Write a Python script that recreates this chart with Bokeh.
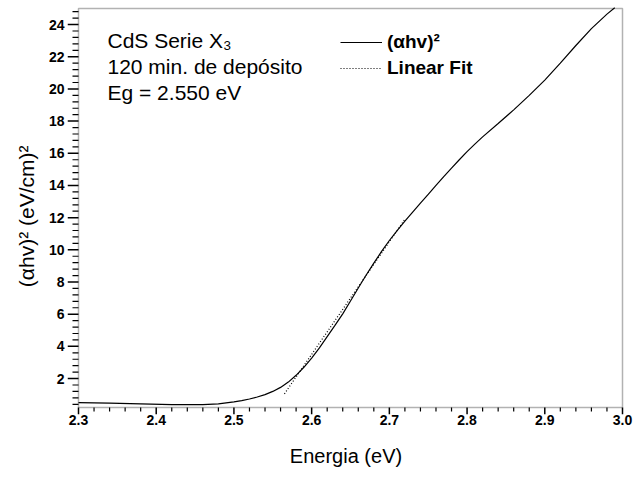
from bokeh.plotting import figure
from bokeh.models import (FixedTicker, NumeralTickFormatter, Label, Legend, LegendItem,
                          Range1d, Whisker, ColumnDataSource, BoxAnnotation)
from bokeh.embed import file_html
from bokeh.resources import INLINE

# data
energy = [2.30, 2.34, 2.38, 2.42, 2.46, 2.48, 2.50, 2.51, 2.52, 2.53, 2.54, 2.55, 2.56,
          2.57, 2.58, 2.59, 2.60, 2.61, 2.62, 2.63, 2.64, 2.65, 2.66, 2.67, 2.68, 2.69,
          2.70, 2.71, 2.72, 2.73, 2.74, 2.75, 2.76, 2.77, 2.78, 2.79, 2.80, 2.81, 2.82,
          2.84, 2.86, 2.88, 2.90, 2.92, 2.94, 2.96, 2.98, 2.99]
ahv2 = [0.50, 0.47, 0.42, 0.38, 0.38, 0.42, 0.55, 0.63, 0.73, 0.85, 1.00, 1.20, 1.45,
        1.78, 2.20, 2.70, 3.27, 3.91, 4.60, 5.30, 6.02, 6.82, 7.63, 8.42, 9.17, 9.90,
        10.58, 11.20, 11.78, 12.35, 12.90, 13.45, 14.00, 14.55, 15.08, 15.60, 16.10,
        16.57, 17.02, 17.85, 18.70, 19.60, 20.55, 21.60, 22.70, 23.75, 24.65, 25.05]
fit_x = [2.565, 2.72]
fit_y = [1.05, 11.90]

x_major = [2.3, 2.4, 2.5, 2.6, 2.7, 2.8, 2.9, 3.0]
y_major = [2, 4, 6, 8, 10, 12, 14, 16, 18, 20, 22, 24]
x_lim = (2.3, 3.0)
y_lim = (0.2, 25.0)

FONT = "Liberation Sans"

# pixel scale of the axes box (544 px wide, 399 px tall)
PX_X = 544 / (x_lim[1] - x_lim[0])
PX_Y = 399 / (y_lim[1] - y_lim[0])
# frame is extended a little so outward tick marks lie inside it
x_start = x_lim[0] - 11 / PX_X
x_end = x_lim[1] + 2 / PX_X
y_start = y_lim[0] - 7 / PX_Y
y_end = y_lim[1] + 2 / PX_Y

p = figure(width=636, height=477, output_backend="svg", toolbar_location=None,
           x_range=Range1d(x_start, x_end), y_range=Range1d(y_start, y_end),
           min_border_left=67, min_border_right=12, min_border_top=6, min_border_bottom=63)
p.grid.visible = False
p.outline_line_color = None
p.background_fill_color = "white"
p.border_fill_color = "white"

curve = p.line(energy, ahv2, line_color="black", line_width=1.2)
fit = p.line(fit_x, fit_y, line_color="black", line_width=1.2, line_dash="1 2")

# the axes box
p.add_layout(BoxAnnotation(left=x_lim[0], right=x_lim[1], bottom=y_lim[0], top=y_lim[1],
                           fill_alpha=0, line_color="black", line_width=1.5))

p.xaxis.ticker = FixedTicker(ticks=x_major)
p.yaxis.ticker = FixedTicker(ticks=y_major)
p.xaxis.formatter = NumeralTickFormatter(format="0.0")
p.yaxis.formatter = NumeralTickFormatter(format="0")

for ax in (p.xaxis[0], p.yaxis[0]):
    ax.axis_line_color = None
    ax.major_tick_line_color = None
    ax.minor_tick_line_color = None
    ax.major_tick_in = 0
    ax.minor_tick_in = 0
    ax.major_tick_out = 0
    ax.minor_tick_out = 0
    ax.major_label_text_font = FONT
    ax.major_label_text_font_style = "bold"
    ax.major_label_text_font_size = "14px"
    ax.major_label_text_color = "black"
    ax.axis_label_text_font = FONT
    ax.axis_label_text_font_style = "normal"
    ax.axis_label_text_color = "black"

p.xaxis.axis_label_text_font_size = "20px"
p.yaxis.axis_label_text_font_size = "21px"
p.xaxis.major_label_standoff = 0
p.yaxis.major_label_standoff = 3
p.xaxis.axis_label = "Energia (eV)"
p.xaxis.axis_label_standoff = 17
p.yaxis.axis_label = "(\u03b1hv)\u00b2   (eV/cm)\u00b2"
p.yaxis.axis_label_standoff = 8

# outward tick marks
x_minor = [round(x_lim[0] + 0.02 * i, 2) for i in range(36)]
y_minor = [round(0.4 * i, 1) for i in range(1, 63)]
tick_sets = [
    (x_major, "height", y_start, y_lim[0], 1.5),
    ([v for v in x_minor if v not in x_major], "height", y_lim[0] - 4 / PX_Y, y_lim[0], 1.2),
    (y_major, "width", x_start, x_lim[0], 1.5),
    ([v for v in y_minor if v not in y_major], "width", x_lim[0] - 6 / PX_X, x_lim[0], 1.2),
]
for pos, dim, lo, hi, lw in tick_sets:
    src = ColumnDataSource(dict(base=pos, lower=[lo] * len(pos), upper=[hi] * len(pos)))
    p.add_layout(Whisker(source=src, base="base", lower="lower", upper="upper",
                         dimension=dim, lower_head=None, upper_head=None,
                         line_color="black", line_width=lw))

for i, t in enumerate(["CdS Serie X\u2083", "120 min. de dep\u00f3sito", "Eg = 2.550 eV"]):
    p.add_layout(Label(x=40, y=374 - 26 * i, x_units="screen", y_units="screen",
                       text=t, text_font=FONT, text_font_size="21px",
                       text_baseline="middle", text_color="black"))

legend = Legend(items=[LegendItem(label="(\u03b1hv)\u00b2", renderers=[curve]),
                       LegendItem(label="Linear Fit", renderers=[fit])],
                location=(273, 334), glyph_width=42, glyph_height=24, label_height=24,
                spacing=2, padding=0, margin=0, border_line_color=None,
                background_fill_alpha=0, label_text_font=FONT, label_text_font_size="19px",
                label_text_font_style="bold", label_text_color="black",
                label_standoff=5)
p.add_layout(legend)

open("out.html", "w").write(file_html(p, INLINE))
